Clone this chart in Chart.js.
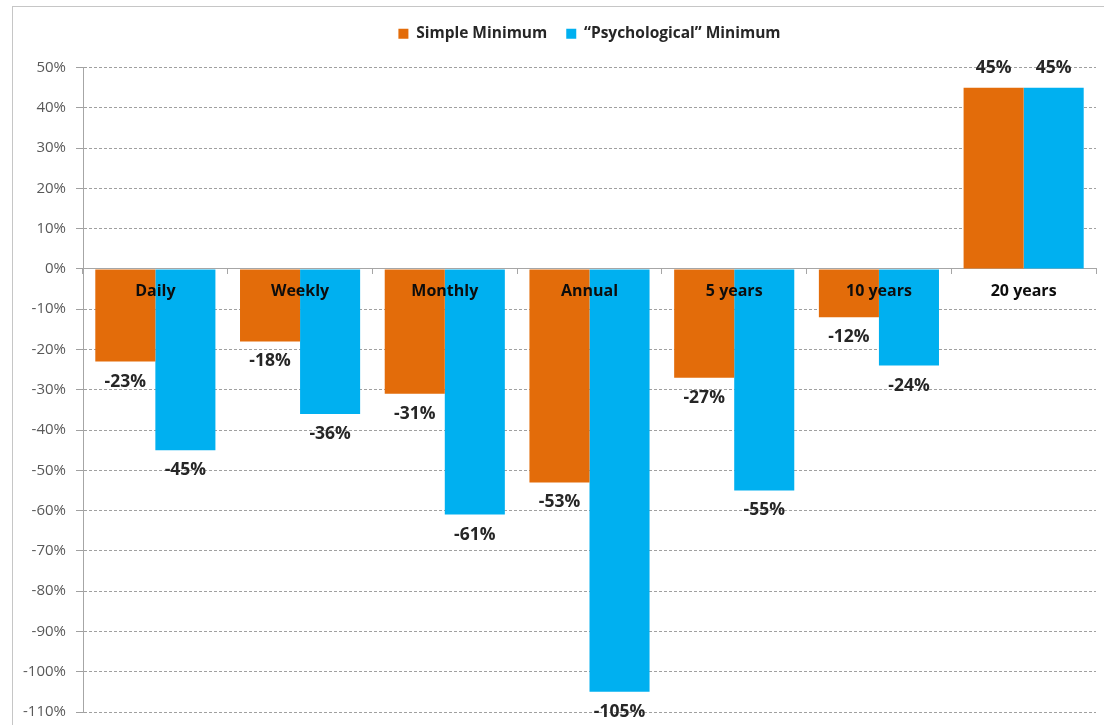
<!DOCTYPE html>
<html>
<head>
<meta charset="utf-8">
<script src="https://cdn.jsdelivr.net/npm/chart.js@4/dist/chart.umd.min.js"></script>
<style>
  html, body { margin: 0; padding: 0; background: #fff; overflow: hidden; }
  #frame {
    position: absolute; left: 12px; top: 6px;
    width: 1200px; height: 800px;
    border: 1px solid #c6c6c6;
  }
  #wrap { position: absolute; left: 0; top: 0; width: 1104px; height: 725px; }
</style>
</head>
<body>
<div id="frame"></div>
<div id="wrap"><canvas id="minChart"></canvas></div>
<script>
const categories = ["Daily", "Weekly", "Monthly", "Annual", "5 years", "10 years", "20 years"];
const simpleMin = [-23, -18, -31, -53, -27, -12, 45];
const psychMin = [-45, -36, -61, -105, -55, -24, 45];
const yTicks = [50, 40, 30, 20, 10, 0, -10, -20, -30, -40, -50, -60, -70, -80, -90, -100, -110];

const FONT = "'Open Sans', 'Noto Sans', sans-serif";

// value labels under negative bars / over positive ones,
// plus the category names sitting just under the zero line
const barLabels = {
  id: "barLabels",
  afterDatasetsDraw(chart) {
    const ctx = chart.ctx;
    const xs = chart.scales.x;
    const ys = chart.scales.y;
    const zeroY = ys.getPixelForValue(0);
    ctx.save();

    // solid value axis line over the dashed grid
    ctx.strokeStyle = "#a6a6a6";
    ctx.lineWidth = 1;
    ctx.beginPath();
    ctx.moveTo(Math.round(ys.right) + 0.5, ys.top);
    ctx.lineTo(Math.round(ys.right) + 0.5, ys.bottom);
    ctx.stroke();

    ctx.textAlign = "center";
    ctx.textBaseline = "middle";

    ctx.font = "bold 16px " + FONT;
    ctx.fillStyle = "#0d0d0d";
    categories.forEach((c, i) => {
      ctx.fillText(c, xs.getPixelForValue(i), zeroY + 23);
    });

    ctx.font = "bold 17.5px " + FONT;
    ctx.fillStyle = "#262626";
    chart.data.datasets.forEach((ds, i) => {
      chart.getDatasetMeta(i).data.forEach((bar, j) => {
        const v = ds.data[j];
        const y = v < 0 ? bar.y + 20 : bar.y - 20;
        ctx.fillText(v + "%", bar.x, y);
      });
    });
    ctx.restore();
  }
};

// extra room between the legend and the plot
const legendSpace = {
  id: "legendSpace",
  beforeInit(chart) {
    const fit = chart.legend.fit;
    chart.legend.fit = function () {
      fit.bind(chart.legend)();
      this.height += 16;
    };
  }
};

new Chart(document.getElementById("minChart"), {
  type: "bar",
  data: {
    labels: categories,
    datasets: [
      {
        label: "Simple Minimum",
        data: simpleMin,
        backgroundColor: "#E36C0A",
        barPercentage: 1.0,
        categoryPercentage: 0.83
      },
      {
        label: "\u201cPsychological\u201d Minimum",
        data: psychMin,
        backgroundColor: "#00B0F0",
        barPercentage: 1.0,
        categoryPercentage: 0.83
      }
    ]
  },
  options: {
    responsive: true,
    maintainAspectRatio: false,
    animation: false,
    layout: { padding: { top: 7, right: 8, bottom: 13, left: 14 } },
    plugins: {
      legend: {
        position: "top",
        fullSize: false,
        labels: {
          boxWidth: 10,
          boxHeight: 10,
          padding: 19,
          color: "#262626",
          font: { family: FONT, size: 15.5, weight: "bold" }
        }
      },
      tooltip: { enabled: false }
    },
    scales: {
      x: {
        position: { y: 0 },
        offset: true,
        grid: {
          display: true,
          drawOnChartArea: false,
          offset: true,
          tickLength: 5,
          color: "#a6a6a6"
        },
        border: { display: true, color: "#a6a6a6", width: 1 },
        ticks: { display: false }
      },
      y: {
        min: -110,
        max: 50,
        afterBuildTicks(scale) {
          scale.ticks = yTicks.map(v => ({ value: v }));
        },
        afterFit(scale) {
          scale.width = 69;
          scale.paddingTop = 0;
          scale.paddingBottom = 0;
        },
        grid: {
          color: "#a0a0a0",
          tickLength: 7
        },
        border: { display: true, color: "#a6a6a6", width: 1, dash: [3, 2] },
        ticks: {
          color: "#595959",
          padding: 10,
          font: { family: FONT, size: 15 },
          callback: v => v + "%"
        }
      }
    }
  },
  plugins: [barLabels, legendSpace]
});
</script>
</body>
</html>
